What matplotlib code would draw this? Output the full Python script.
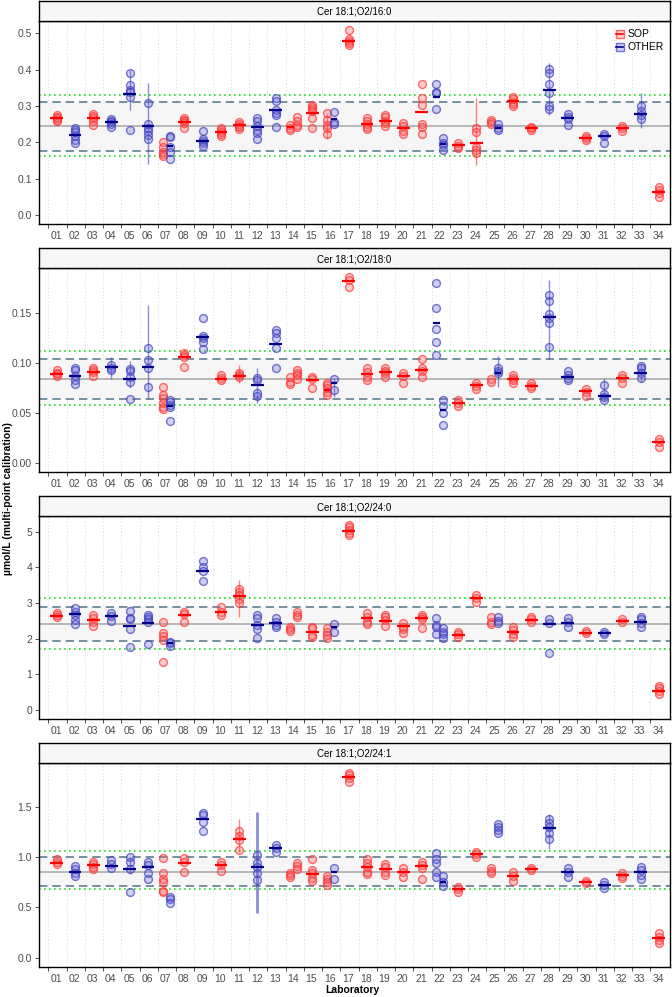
import numpy as np
import matplotlib
matplotlib.use("Agg")
import matplotlib.pyplot as plt
from matplotlib.lines import Line2D
from matplotlib.legend_handler import HandlerTuple

plt.rcParams["font.family"] = ["Liberation Sans", "DejaVu Sans"]

labs = [f"{i:02d}" for i in range(1, 35)]

titles = ["Cer 18:1;O2/16:0", "Cer 18:1;O2/18:0", "Cer 18:1;O2/24:0", "Cer 18:1;O2/24:1"]

# reference lines per panel: consensus, dashed low/high, dotted low/high
consensus = [0.245, 0.0833, 2.41, 0.854]
dash_lo = [0.177, 0.064, 1.93, 0.715]
dash_hi = [0.312, 0.1033, 2.90, 1.003]
dot_lo = [0.163, 0.0573, 1.70, 0.679]
dot_hi = [0.330, 0.1113, 3.14, 1.063]

yticks = [[0, 0.1, 0.2, 0.3, 0.4, 0.5], [0, 0.05, 0.10, 0.15], [0, 1, 2, 3, 4, 5], [0, 0.5, 1.0, 1.5]]
yfmt = ["{:.1f}", "{:.2f}", "{:.0f}", "{:.1f}"]
ylims = [(-0.025, 0.534), (-0.0093, 0.1947), (-0.25, 5.44), (-0.093, 1.934)]

# rows: lab, group (S=SOP, O=OTHER), dodge side, replicate values, median, range line
cer16 = [
    ("01", "S", 0, [0.274, 0.270, 0.267, 0.262, 0.258], 0.267, None),
    ("02", "O", 0, [0.240, 0.235, 0.228, 0.218, 0.205, 0.197], 0.221, None),
    ("03", "S", 0, [0.278, 0.272, 0.266, 0.260, 0.248], 0.267, None),
    ("04", "O", 0, [0.265, 0.260, 0.255, 0.250, 0.243], 0.257, None),
    ("05", "O", 0, [0.391, 0.358, 0.345, 0.338, 0.325, 0.234], 0.333, (0.289, 0.400)),
    ("06", "O", 0, [0.308, 0.250, 0.240, 0.230, 0.220, 0.210], 0.245, (0.140, 0.362)),
    ("07", "S", -1, [0.202, 0.188, 0.174, 0.167, 0.162], None, None),
    ("07", "O", 1, [0.217, 0.214, 0.188, 0.174, 0.153], 0.191, None),
    ("08", "S", 0, [0.267, 0.262, 0.258, 0.252, 0.238], 0.257, None),
    ("09", "O", 0, [0.231, 0.208, 0.204, 0.198, 0.189], 0.204, None),
    ("10", "S", 0, [0.238, 0.233, 0.228, 0.222, 0.218], 0.228, None),
    ("11", "S", 0, [0.257, 0.250, 0.246, 0.242, 0.237], 0.247, None),
    ("12", "O", 0, [0.268, 0.258, 0.246, 0.235, 0.225, 0.208], 0.241, None),
    ("13", "O", 0, [0.322, 0.315, 0.290, 0.282, 0.275, 0.243], 0.289, None),
    ("14", "S", -1, [0.248, 0.240, 0.234], 0.243, None),
    ("14", "S", 1, [0.269, 0.260, 0.248, 0.241], None, None),
    ("15", "S", 0, [0.302, 0.297, 0.291, 0.285, 0.266, 0.238], 0.282, None),
    ("16", "S", -1, [0.280, 0.261, 0.248, 0.239, 0.223], None, (0.210, 0.280)),
    ("16", "O", 1, [0.284, 0.255, 0.250], 0.263, None),
    ("17", "S", 0, [0.509, 0.484, 0.478, 0.474, 0.468], 0.480, None),
    ("18", "S", 0, [0.266, 0.259, 0.250, 0.243, 0.236], 0.250, None),
    ("19", "S", 0, [0.275, 0.269, 0.260, 0.252, 0.245], 0.259, None),
    ("20", "S", 0, [0.252, 0.245, 0.231, 0.223], 0.239, None),
    ("21", "S", 0, [0.360, 0.323, 0.303, 0.250, 0.243, 0.222], 0.283, None),
    ("22", "O", -1, [0.361, 0.339, 0.337, 0.291], 0.324, None),
    ("22", "O", 1, [0.211, 0.199, 0.193, 0.179], 0.194, None),
    ("23", "S", 0, [0.199, 0.190, 0.183], 0.192, None),
    ("24", "S", 0, [0.239, 0.229, 0.188, 0.179, 0.170], 0.199, (0.138, 0.321)),
    ("25", "S", -1, [0.261, 0.257, 0.250], None, None),
    ("25", "O", 1, [0.250, 0.240, 0.234], 0.239, None),
    ("26", "S", 0, [0.326, 0.318, 0.312, 0.306, 0.300], 0.314, None),
    ("27", "S", 0, [0.243, 0.239, 0.234], 0.238, None),
    ("28", "O", 0, [0.401, 0.390, 0.360, 0.335, 0.300, 0.291], 0.344, (0.275, 0.417)),
    ("29", "O", 0, [0.277, 0.271, 0.264, 0.248], 0.266, None),
    ("30", "S", 0, [0.216, 0.211, 0.206], 0.213, None),
    ("31", "O", 0, [0.222, 0.216, 0.197], 0.216, None),
    ("32", "S", 0, [0.245, 0.239, 0.232], 0.239, None),
    ("33", "O", 0, [0.301, 0.286, 0.275, 0.264], 0.277, (0.239, 0.335)),
    ("34", "S", 0, [0.076, 0.069, 0.061, 0.050], 0.062, None),
]

cer18 = [
    ("01", "S", 0, [0.0927, 0.090, 0.0887, 0.0867], 0.0883, None),
    ("02", "O", 0, [0.095, 0.0927, 0.0867, 0.0827, 0.0783], 0.0867, None),
    ("03", "S", 0, [0.095, 0.093, 0.091, 0.0867], 0.0907, None),
    ("04", "O", 0, [0.0977, 0.095, 0.0927], 0.0957, (0.084, 0.106)),
    ("05", "O", 0, [0.0933, 0.0917, 0.0853, 0.081, 0.0633], 0.0837, (0.075, 0.102)),
    ("06", "O", 0, [0.115, 0.1027, 0.095, 0.076], 0.0957, (0.064, 0.158)),
    ("07", "S", -1, [0.076, 0.0677, 0.0643, 0.0593, 0.056, 0.0533], None, None),
    ("07", "O", 1, [0.0627, 0.0603, 0.0577, 0.056, 0.0417], 0.057, None),
    ("08", "S", 0, [0.110, 0.1077, 0.106, 0.096], 0.1053, None),
    ("09", "O", 0, [0.1443, 0.127, 0.1243, 0.121, 0.1133], 0.126, None),
    ("10", "S", 0, [0.0877, 0.085, 0.0827], 0.0833, None),
    ("11", "S", 0, [0.090, 0.0877, 0.0853], 0.0867, (0.080, 0.098)),
    ("12", "O", 0, [0.085, 0.0827, 0.0693, 0.0667], 0.0777, (0.060, 0.095)),
    ("13", "O", 0, [0.1327, 0.1293, 0.1243, 0.1143, 0.0943], 0.1187, None),
    ("14", "S", -1, [0.086, 0.081, 0.0787], None, None),
    ("14", "S", 1, [0.0927, 0.090, 0.0877, 0.0833], None, None),
    ("15", "S", 0, [0.086, 0.0833, 0.075], 0.0827, None),
    ("16", "S", -1, [0.080, 0.0777, 0.0743, 0.071, 0.0677], 0.073, None),
    ("16", "O", 1, [0.0833, 0.0727], 0.0793, (0.066, 0.085)),
    ("17", "S", 0, [0.186, 0.1827, 0.176], 0.182, None),
    ("18", "S", 0, [0.0943, 0.091, 0.086, 0.0827], 0.0887, None),
    ("19", "S", 0, [0.095, 0.092, 0.0893, 0.0853], 0.0907, None),
    ("20", "S", 0, [0.090, 0.0867, 0.0793], 0.0867, None),
    ("21", "S", 0, [0.104, 0.0943, 0.0917, 0.086], 0.0927, None),
    ("22", "O", -1, [0.180, 0.155, 0.1333, 0.121, 0.1073], 0.1397, None),
    ("22", "O", 1, [0.0627, 0.0567, 0.0493, 0.0377], 0.0523, None),
    ("23", "S", 0, [0.0627, 0.0593, 0.0567], 0.0593, None),
    ("24", "S", 0, [0.0793, 0.0767, 0.0733], 0.0777, None),
    ("25", "S", -1, [0.0833, 0.081], None, None),
    ("25", "O", 1, [0.0943, 0.092, 0.0893], 0.090, (0.076, 0.107)),
    ("26", "S", 0, [0.0877, 0.085, 0.0827, 0.0793], 0.0833, None),
    ("27", "S", 0, [0.0793, 0.077, 0.0743], 0.077, None),
    ("28", "O", 0, [0.1677, 0.1617, 0.1487, 0.1443, 0.1393, 0.116], 0.146, (0.104, 0.183)),
    ("29", "O", 0, [0.0917, 0.0877, 0.085, 0.0827], 0.086, None),
    ("30", "S", 0, [0.0733, 0.071, 0.0667], 0.0717, None),
    ("31", "O", 0, [0.0773, 0.0687, 0.066, 0.0627], 0.067, (0.062, 0.085)),
    ("32", "S", 0, [0.0877, 0.085, 0.0793], 0.085, None),
    ("33", "O", 0, [0.097, 0.0943, 0.0893, 0.0843], 0.0893, (0.081, 0.099)),
    ("34", "S", 0, [0.024, 0.021, 0.016], 0.0203, None),
]

cer24 = [
    ("01", "S", 0, [2.71, 2.66, 2.60], 2.64, None),
    ("02", "O", 0, [2.85, 2.76, 2.66, 2.52, 2.41], 2.68, None),
    ("03", "S", 0, [2.66, 2.57, 2.48, 2.36], 2.52, None),
    ("04", "O", 0, [2.73, 2.64, 2.50], 2.64, None),
    ("05", "O", 0, [2.78, 2.59, 2.54, 2.27, 1.76], 2.36, None),
    ("06", "O", 0, [2.66, 2.60, 2.54, 2.48, 1.85], 2.45, None),
    ("07", "S", -1, [2.48, 2.17, 2.07, 1.96, 1.36], None, None),
    ("07", "O", 1, [1.92, 1.87, 1.80], 1.87, None),
    ("08", "S", 0, [2.76, 2.68, 2.48], 2.66, None),
    ("09", "O", 0, [4.19, 4.00, 3.91, 3.63], 3.91, None),
    ("10", "S", 0, [2.88, 2.76, 2.66], 2.76, None),
    ("11", "S", 0, [3.39, 3.32, 3.22, 3.10, 2.99], 3.21, (2.62, 3.64)),
    ("12", "O", 0, [2.66, 2.57, 2.38, 2.27, 2.01], 2.38, None),
    ("13", "O", 0, [2.57, 2.48, 2.38, 2.34], 2.43, None),
    ("14", "S", -1, [2.34, 2.26, 2.22], None, None),
    ("14", "S", 1, [2.74, 2.66, 2.62], None, None),
    ("15", "S", 0, [2.34, 2.29, 2.10, 2.04], 2.18, None),
    ("16", "S", -1, [2.29, 2.20, 2.10, 2.01], None, None),
    ("16", "O", 1, [2.41, 2.20], 2.34, None),
    ("17", "S", 0, [5.19, 5.12, 5.05, 4.95, 4.91], 5.03, None),
    ("18", "S", 0, [2.71, 2.60, 2.48, 2.41], 2.57, None),
    ("19", "S", 0, [2.66, 2.60, 2.52, 2.36], 2.50, None),
    ("20", "S", 0, [2.43, 2.34, 2.26, 2.17], 2.36, None),
    ("21", "S", 0, [2.66, 2.60, 2.54, 2.29], 2.59, None),
    ("22", "O", -1, [2.57, 2.38, 2.34, 2.13], None, None),
    ("22", "O", 1, [2.29, 2.20, 2.13, 2.01], None, None),
    ("23", "S", 0, [2.20, 2.13, 2.06], 2.10, None),
    ("24", "S", 0, [3.22, 3.13, 3.04], 3.13, None),
    ("25", "S", -1, [2.60, 2.48, 2.41], None, None),
    ("25", "O", 1, [2.60, 2.50, 2.43], None, None),
    ("26", "S", 0, [2.34, 2.24, 2.13, 2.04], 2.18, None),
    ("27", "S", 0, [2.62, 2.54, 2.48], 2.52, None),
    ("28", "O", 0, [2.54, 2.45, 1.61], 2.40, None),
    ("29", "O", 0, [2.57, 2.48, 2.34], 2.45, None),
    ("30", "S", 0, [2.22, 2.15], 2.17, None),
    ("31", "O", 0, [2.20, 2.13], 2.15, None),
    ("32", "S", 0, [2.54, 2.48], 2.50, None),
    ("33", "O", 0, [2.62, 2.54, 2.43, 2.34], 2.48, None),
    ("34", "S", 0, [0.67, 0.61, 0.54, 0.44], 0.54, None),
]

cer241 = [
    ("01", "S", 0, [0.977, 0.954, 0.930], 0.944, None),
    ("02", "O", 0, [0.914, 0.877, 0.844, 0.811], 0.854, None),
    ("03", "S", 0, [0.954, 0.930, 0.904, 0.877], 0.917, None),
    ("04", "O", 0, [0.970, 0.930, 0.887], 0.914, None),
    ("05", "O", 0, [1.003, 0.954, 0.881, 0.656], 0.881, (0.83, 1.0)),
    ("06", "O", 0, [0.947, 0.921, 0.844, 0.778], 0.897, None),
    ("07", "S", -1, [0.987, 0.838, 0.778, 0.755, 0.662, 0.649], None, None),
    ("07", "O", 1, [0.606, 0.579, 0.546], None, None),
    ("08", "S", 0, [0.987, 0.954, 0.854], 0.944, None),
    ("09", "O", 0, [1.440, 1.417, 1.351, 1.262], 1.381, None),
    ("10", "S", 0, [0.954, 0.921, 0.864], 0.921, None),
    ("11", "S", 0, [1.258, 1.209, 1.169, 1.070], 1.175, (1.05, 1.38)),
    ("12", "O", 0, [1.020, 0.937, 0.904, 0.844, 0.772], 0.897, (0.44, 1.45)),
    ("13", "O", 0, [1.119, 1.086, 1.053], 1.086, None),
    ("14", "S", -1, [0.844, 0.821, 0.805], None, None),
    ("14", "S", 1, [0.937, 0.914, 0.881], None, None),
    ("15", "S", 0, [0.977, 0.871, 0.838, 0.788, 0.765], 0.831, None),
    ("16", "S", -1, [0.811, 0.778, 0.755, 0.722], None, None),
    ("16", "O", 1, [0.894, 0.778], 0.854, None),
    ("17", "S", 0, [1.831, 1.815, 1.781, 1.748], 1.791, None),
    ("18", "S", 0, [0.977, 0.944, 0.904, 0.854, 0.831], 0.904, None),
    ("19", "S", 0, [0.927, 0.897, 0.854, 0.821], 0.877, None),
    ("20", "S", 0, [0.887, 0.854, 0.798], 0.854, None),
    ("21", "S", 0, [0.954, 0.921, 0.887, 0.781], 0.911, None),
    ("22", "O", -1, [1.036, 0.977, 0.937, 0.854, 0.805], None, None),
    ("22", "O", 1, [0.815, 0.755, 0.715], 0.755, None),
    ("23", "S", 0, [0.705, 0.679, 0.656], 0.679, None),
    ("24", "S", 0, [1.053, 1.026, 0.997], 1.026, None),
    ("25", "S", -1, [0.887, 0.864, 0.838], None, None),
    ("25", "O", 1, [1.328, 1.301, 1.268, 1.242], None, None),
    ("26", "S", 0, [0.854, 0.811, 0.765], 0.811, None),
    ("27", "S", 0, [0.894, 0.871], 0.877, None),
    ("28", "O", 0, [1.374, 1.334, 1.301, 1.235, 1.175], 1.285, (1.08, 1.43)),
    ("29", "O", 0, [0.887, 0.854, 0.805], 0.854, None),
    ("30", "S", 0, [0.765, 0.738], 0.752, None),
    ("31", "O", 0, [0.748, 0.722, 0.689], 0.722, None),
    ("32", "S", 0, [0.838, 0.811, 0.788], 0.821, None),
    ("33", "O", 0, [0.904, 0.871, 0.821, 0.781], 0.854, None),
    ("34", "S", 0, [0.242, 0.209, 0.175, 0.142], 0.192, None),
]

panels = [cer16, cer18, cer24, cer241]

pt_edge = {"S": (1.0, 0.2, 0.2, 0.7), "O": (0.25, 0.25, 0.75, 0.7)}
pt_fill = {"S": (1.0, 0.35, 0.35, 0.3), "O": (0.4, 0.4, 0.85, 0.3)}
bar_col = {"S": "#ff0000", "O": "#00008b"}

W, H = 672, 997
fig = plt.figure(figsize=(W / 100, H / 100), dpi=100)

# pixel geometry of the four facets (top, bottom of plotting area)
left_px, right_px = 39, 670
facet_px = [(21, 224), (268, 472), (516, 719), (763, 967)]
strip_h = 20

for k, rows in enumerate(panels):
    top, bot = facet_px[k]
    ax = fig.add_axes([left_px / W, 1 - bot / H, (right_px - left_px) / W, (bot - top) / H])
    sax = fig.add_axes([left_px / W, 1 - top / H, (right_px - left_px) / W, strip_h / H])
    sax.set_xticks([]); sax.set_yticks([])
    sax.set_facecolor("#f7f7f7")
    for s in sax.spines.values():
        s.set_linewidth(1.0)
    sax.text(0.5, 0.45, titles[k], ha="center", va="center", fontsize=7, transform=sax.transAxes)

    ax.set_xlim(0.49, 35.07)
    ax.set_ylim(*ylims[k])

    # vertical dotted grid at tick positions
    for i in range(1, 35):
        ax.axvline(i, color="#d9d9d9", lw=0.6, ls=(0, (1.5, 2.5)), zorder=0)

    ax.axhspan(dash_lo[k], dash_hi[k], color="#f6f6f6", zorder=0.5, lw=0)
    ax.axhline(consensus[k], color="#a6a6a6", lw=1.1, zorder=1)
    ax.axhline(dash_lo[k], color="#5f7f8f", lw=1.2, ls=(0, (5, 3)), zorder=1)
    ax.axhline(dash_hi[k], color="#5f7f8f", lw=1.2, ls=(0, (5, 3)), zorder=1)
    ax.axhline(dot_lo[k], color="#22dd22", lw=1.2, ls=(0, (1, 2)), zorder=1)
    ax.axhline(dot_hi[k], color="#22dd22", lw=1.2, ls=(0, (1, 2)), zorder=1)

    for lab, grp, side, vals, med, rng in rows:
        x = labs.index(lab) + 1 + 0.46 + side * 0.19
        if rng is not None:
            lw = 2.0 if (k == 3 and lab == "12") else 1.0
            ax.plot([x, x], rng, color=pt_edge[grp], alpha=0.6, lw=lw, zorder=2, solid_capstyle="butt")
        ax.scatter(np.full(len(vals), x), vals, s=32, facecolor=pt_fill[grp],
                   edgecolor=pt_edge[grp], linewidth=1.0, zorder=3)
        if med is not None:
            hw = 0.35 if side == 0 else 0.17
            ax.plot([x - hw, x + hw], [med, med], color=bar_col[grp], lw=1.6, zorder=4,
                    solid_capstyle="butt")

    ax.set_yticks(yticks[k])
    ax.set_yticklabels([yfmt[k].format(v) for v in yticks[k]])
    ax.set_xticks([i + 0.42 for i in range(1, 35)])
    ax.set_xticklabels(labs)
    ax.set_xticks(range(1, 35), minor=True)
    ax.tick_params(axis="x", which="major", length=0, pad=5, labelsize=7.5, labelcolor="#4d4d4d")
    ax.tick_params(axis="x", which="minor", length=3, width=0.6, color="#333333")
    ax.tick_params(axis="y", length=3, width=0.6, color="#333333", labelsize=7.5, labelcolor="#4d4d4d", pad=2)
    for s in ax.spines.values():
        s.set_linewidth(1.0)

    if k == 0:
        h_sop = (Line2D([], [], marker="s", ms=6, mfc=pt_fill["S"], mec=pt_edge["S"], ls="none"),
                 Line2D([], [], color=bar_col["S"], lw=1.2))
        h_oth = (Line2D([], [], marker="s", ms=6, mfc=pt_fill["O"], mec=pt_edge["O"], ls="none"),
                 Line2D([], [], color=bar_col["O"], lw=1.2))
        ax.legend([h_sop, h_oth], ["SOP", "OTHER"], handler_map={tuple: HandlerTuple(ndivide=1, pad=0)},
                  loc="upper right", bbox_to_anchor=(1.0, 0.99), frameon=False, fontsize=7.5,
                  handlelength=0.7, handletextpad=0.4, labelspacing=0.3, borderaxespad=0.2)

fig.text(8 / W, 0.5, "µmol/L (multi-point calibration)", rotation=90, ha="center", va="center",
         fontsize=7.5, fontweight="bold")
fig.text(352 / W, 1 - 990 / H, "Laboratory", ha="center", va="center", fontsize=7.5, fontweight="bold")

fig.savefig("out.png", dpi=100)
